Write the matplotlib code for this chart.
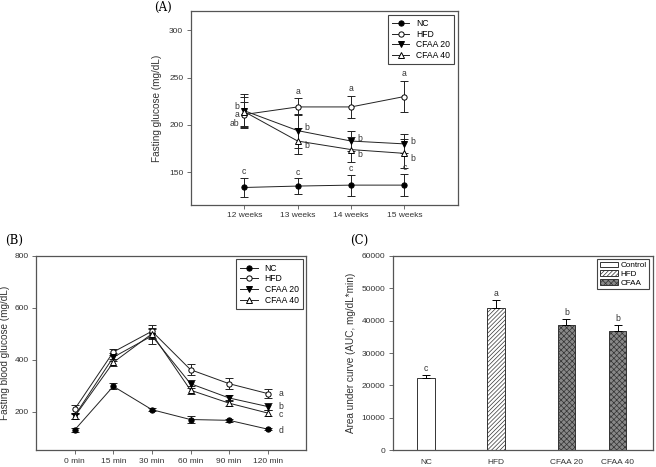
import numpy as np
import matplotlib.pyplot as plt
from matplotlib.lines import Line2D
from matplotlib.patches import Patch

plt.rcParams['font.family'] = ['Liberation Sans', 'DejaVu Sans']
plt.rcParams['hatch.linewidth'] = 0.5

# ---- panel A data: fasting glucose by week
weeks = [12, 13, 14, 15]
week_labels = ["12 weeks", "13 weeks", "14 weeks", "15 weeks"]
a_nc = [134, 135.5, 136.5, 136.5]
a_nc_err = [10, 8, 11, 12]
a_hfd = [211, 219, 219, 230]
a_hfd_err = [13, 9, 12, 16]
a_c20 = [215, 194, 183, 180]
a_c20_err = [18, 18, 11, 10]
a_c40 = [214, 183, 174, 170]
a_c40_err = [15, 14, 13, 15]
a_first_letters = [("b", 219.5), ("a", 210.5), ("ab", 201.8)]

# ---- panel B data: OGTT
times = ["0 min", "15 min", "30 min", "60 min", "90 min", "120 min"]
b_nc = [130, 298, 208, 170, 167, 133]
b_nc_err = [8, 12, 5, 12, 6, 5]
b_hfd = [210, 430, 510, 362, 308, 270]
b_hfd_err = [15, 12, 25, 22, 22, 18]
b_c20 = [185, 410, 492, 308, 253, 220]
b_c20_err = [12, 15, 30, 15, 12, 15]
b_c40 = [182, 390, 500, 283, 233, 195]
b_c40_err = [10, 15, 20, 15, 12, 10]
b_letters = [("a", 270), ("b", 222), ("c", 191), ("d", 129)]

# ---- panel C data: AUC
groups = ["NC", "HFD", "CFAA 20", "CFAA 40"]
group_x = [1, 2, 3, 3.73]
auc = [22300, 43800, 38800, 36700]
auc_err = [1000, 2500, 1700, 2000]
auc_letters = ["c", "a", "b", "b"]

fig = plt.figure(figsize=(6.56, 4.67), dpi=100)
axA = fig.add_axes([0.291, 0.562, 0.407, 0.414])
axB = fig.add_axes([0.055, 0.036, 0.412, 0.416])
axC = fig.add_axes([0.599, 0.036, 0.396, 0.416])

styles = [
    dict(marker='o', mfc='black', label='NC'),
    dict(marker='o', mfc='white', label='HFD'),
    dict(marker='v', mfc='black', label='CFAA 20'),
    dict(marker='^', mfc='white', label='CFAA 40'),
]
txt = dict(fontsize=6.2, color='#333333')

def draw_lines(ax, x, series):
    for (y, e), st in zip(series, styles):
        ax.errorbar(x, y, yerr=e, color='#222222', mec='black', lw=0.7,
                    ms=3.8, mew=0.7, elinewidth=0.7, capsize=3, capthick=0.7, **st)
    handles = [Line2D([], [], color='#222222', mec='black', lw=0.7, ms=3.8, mew=0.7, **st)
               for st in styles]
    leg = ax.legend(handles=handles, loc='upper right', fontsize=6.2, fancybox=False,
                    edgecolor='#444444', framealpha=1, handlelength=2.0,
                    borderpad=0.5, labelspacing=0.2, borderaxespad=0.4)
    leg.get_frame().set_linewidth(0.8)

def style_axis(ax):
    for s in ax.spines.values():
        s.set_color('#555555')
        s.set_linewidth(0.9)
    ax.tick_params(direction='out', length=3, width=0.6, color='#555555',
                   labelsize=6, labelcolor='#333333', pad=2.5)

# panel A
draw_lines(axA, weeks, [(a_nc, a_nc_err), (a_hfd, a_hfd_err),
                        (a_c20, a_c20_err), (a_c40, a_c40_err)])
axA.set_xlim(11, 16)
axA.set_ylim(116, 320)
axA.set_xticks(weeks)
axA.set_xticklabels(week_labels)
axA.set_yticks([150, 200, 250, 300])
axA.set_ylabel("Fasting glucose (mg/dL)", fontsize=7.2, color='#333333', labelpad=5)
style_axis(axA)
for i, w in enumerate(weeks):
    axA.text(w, a_nc[i] + a_nc_err[i] + 2, "c", ha='center', va='bottom', **txt)
for lab, y in a_first_letters:
    axA.text(11.91, y, lab, ha='right', va='center', **txt)
for i in range(1, 4):
    axA.text(weeks[i], a_hfd[i] + a_hfd_err[i] + 3, "a", ha='center', va='bottom', **txt)
    axA.text(weeks[i] + 0.12, a_c20[i] + 3, "b", ha='left', va='center', **txt)
    axA.text(weeks[i] + 0.12, a_c40[i] - 5, "b", ha='left', va='center', **txt)

# panel B
xb = np.arange(len(times))
draw_lines(axB, xb, [(b_nc, b_nc_err), (b_hfd, b_hfd_err),
                     (b_c20, b_c20_err), (b_c40, b_c40_err)])
axB.set_xlim(-1, 6)
axB.set_ylim(52, 800)
axB.set_xticks(xb)
axB.set_xticklabels(times)
axB.set_yticks([200, 400, 600, 800])
axB.set_ylabel("Fasting blood glucose (mg/dL)", fontsize=7.2, color='#333333', labelpad=3)
style_axis(axB)
for lab, y in b_letters:
    axB.text(xb[-1] + 0.28, y, lab, ha='left', va='center', **txt)

# panel C
hatches = ['', '////////', 'xxxxxx', 'xxxxxx']
faces = ['white', 'white', '#888888', '#888888']
for i in range(len(groups)):
    axC.bar(group_x[i], auc[i], width=0.25, color=faces[i], edgecolor='#333333',
            hatch=hatches[i], linewidth=0.7)
    axC.errorbar(group_x[i], auc[i], yerr=[[0], [auc_err[i]]], color='black',
                 elinewidth=0.7, capsize=3, capthick=0.7)
    axC.text(group_x[i], auc[i] + auc_err[i] + 600, auc_letters[i], ha='center',
             va='bottom', **txt)
axC.set_xlim(0.53, 4.23)
axC.set_ylim(0, 60000)
axC.set_xticks(group_x)
axC.set_xticklabels(groups)
axC.set_yticks(np.arange(0, 60001, 10000))
axC.set_ylabel("Area under curve (AUC, mg/dL*min)", fontsize=7.2, color='#333333', labelpad=4)
style_axis(axC)
axC.tick_params(axis='x', length=0, pad=6)
handles = [Patch(facecolor='white', edgecolor='#333333', lw=0.7, label='Control'),
           Patch(facecolor='white', edgecolor='#333333', hatch='////////', lw=0.7, label='HFD'),
           Patch(facecolor='#888888', edgecolor='#333333', hatch='xxxxxx', lw=0.7, label='CFAA')]
leg = axC.legend(handles=handles, loc='upper right', fontsize=5.9, fancybox=False,
                 edgecolor='#444444', framealpha=1, handlelength=2.2, handleheight=0.7,
                 borderpad=0.3, labelspacing=0.12, borderaxespad=0.4, handletextpad=0.4)
leg.get_frame().set_linewidth(0.8)

# panel labels
fig.text(0.248, 0.985, "(A)", fontsize=8.5, family='DejaVu Serif', ha='center', va='center')
fig.text(0.008, 0.486, "(B)", fontsize=8.5, family='DejaVu Serif', ha='left', va='center')
fig.text(0.533, 0.486, "(C)", fontsize=8.5, family='DejaVu Serif', ha='left', va='center')

fig.savefig("out.png", dpi=100)
